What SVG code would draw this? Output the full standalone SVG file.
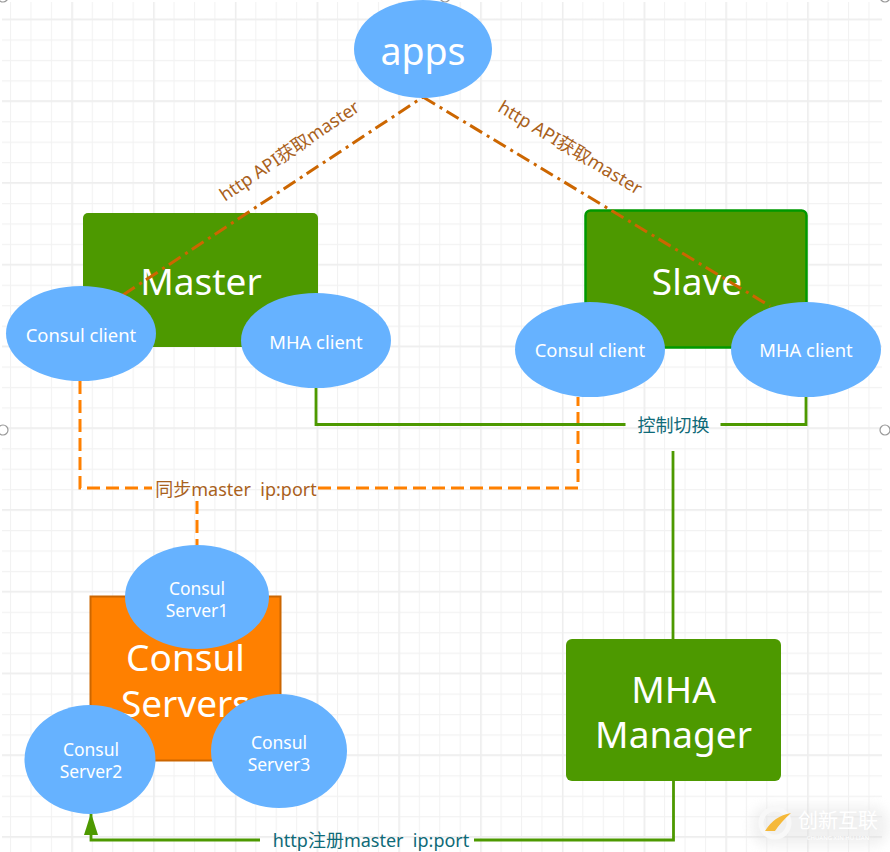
<svg xmlns="http://www.w3.org/2000/svg" width="890" height="852" viewBox="0 0 890 852">
<style>
text{font-family:"Noto Sans","Noto Sans CJK SC",sans-serif;text-anchor:middle;white-space:pre}
.e{fill:#66b2ff}
.g{fill:#4d9900}
.w{fill:#fff}
.s{font-size:18.400px}
.xs{font-size:17.500px}
.l{font-size:37px}
.lab{font-size:18px;fill:#a9611c}
.tl{font-size:18px;fill:#0f6a78}
.gl{fill:none;stroke:#4d9900;stroke-width:2.8}
.od{fill:none;stroke:#ff8000;stroke-width:3;stroke-dasharray:13 6}
.dd{fill:none;stroke:#cc6600;stroke-width:3;stroke-dasharray:14 5.500 3 5}
.h{fill:#fff;stroke:#999;stroke-width:1.2}
</style>
<defs>
<pattern id="minor" x="10" y="19" width="20.44" height="20.44" patternUnits="userSpaceOnUse"><path d="M0.5 0V20.44M0 0.5H20.44" fill="none" stroke="#f2f2f2" stroke-width="1.2"/></pattern>
<pattern id="major" x="71.5" y="18.5" width="81.75" height="81.75" patternUnits="userSpaceOnUse"><path d="M0.75 0V81.75M0 0.75H81.75" fill="none" stroke="#eeeeee" stroke-width="1.6"/></pattern>
<marker id="arrow" markerUnits="userSpaceOnUse" markerWidth="24" markerHeight="16" refX="23" refY="8" orient="auto" viewBox="0 0 24 16"><path d="M24 8L2 1V15Z" fill="#4d9900"/></marker>
<filter id="soft" x="-20%" y="-40%" width="140%" height="180%"><feGaussianBlur stdDeviation="6"/></filter>
</defs>
<rect width="890" height="852" fill="#fff"/>
<g id="grid">
<rect x="2" y="2" width="880" height="850" fill="url(#minor)"/>
<rect x="2" y="2" width="880" height="850" fill="url(#major)"/>
</g>
<g id="handles">
<circle class="h" cx="3" cy="430" r="5"/><circle class="h" cx="885" cy="430" r="5"/>
<circle class="h" cx="3" cy="-3" r="5"/><circle class="h" cx="445" cy="-3" r="5"/><circle class="h" cx="885" cy="-3" r="5"/>
</g>
<g id="master"><rect class="g" x="83" y="213" width="235" height="134" rx="5"/><text class="w l" x="201" y="295">Master</text></g>
<g id="slave"><rect class="g" x="585.500" y="210.500" width="221" height="137" rx="5" stroke="#009900" stroke-width="2.500"/><text class="w l" x="697" y="295">Slave</text></g>
<g id="consul-servers"><rect x="90.500" y="596.500" width="190" height="164" fill="#ff8000" stroke="#cc6600" stroke-width="2"/><text class="w l" x="185.500" y="671">Consul<tspan x="185.500" y="717">Servers</tspan></text></g>
<g id="mha-manager"><rect class="g" x="566" y="639" width="215" height="142" rx="6"/><text class="w l" x="673.500" y="703">MHA<tspan x="673.500" y="748">Manager</tspan></text></g>
<g id="connectors">
<path class="dd" d="M123 295L423 97"/>
<path class="dd" d="M423 97L770 306"/>
<path class="od" d="M80 381V488H152"/>
<path class="od" d="M318 488H578V397"/>
<path class="od" d="M197 501V546"/>
<path class="gl" d="M316 388V424.500H625.500"/>
<path class="gl" d="M720.500 424.500H806V397"/>
<path class="gl" d="M673 451V639"/>
<path class="gl" d="M673.500 781V840H474"/>
<path class="gl" d="M260 840H91V814" marker-end="url(#arrow)"/>
</g>
<g id="apps"><ellipse class="e" cx="423" cy="49" rx="69" ry="49"/><text class="w" style="font-size:37.500px" x="423" y="65">apps</text></g>
<g id="consul-client-1"><ellipse class="e" cx="81" cy="333.500" rx="75" ry="47.500"/><text class="w s" x="81" y="342">Consul client</text></g>
<g id="mha-client-1"><ellipse class="e" cx="316" cy="340.500" rx="75" ry="47.500"/><text class="w s" x="316" y="349">MHA client</text></g>
<g id="consul-client-2"><ellipse class="e" cx="590" cy="349.500" rx="75" ry="47.500"/><text class="w s" x="590" y="357">Consul client</text></g>
<g id="mha-client-2"><ellipse class="e" cx="806" cy="349.500" rx="75" ry="47.500"/><text class="w s" x="806" y="357">MHA client</text></g>
<g id="consul-server-1"><ellipse class="e" cx="197" cy="597" rx="72" ry="52"/><text class="w xs" x="197" y="595">Consul<tspan x="197" y="617">Server1</tspan></text></g>
<g id="consul-server-2"><ellipse class="e" cx="90" cy="759.500" rx="65.500" ry="54.500"/><text class="w xs" x="91" y="756">Consul<tspan x="91" y="778">Server2</tspan></text></g>
<g id="consul-server-3"><ellipse class="e" cx="279" cy="751" rx="68" ry="57"/><text class="w xs" x="279" y="749">Consul<tspan x="279" y="771">Server3</tspan></text></g>
<g id="labels">
<text class="tl" x="673.500" y="432">控制切换</text>
<text class="lab" x="236" y="496">同步master  ip:port</text>
<text class="tl" x="371" y="847">http注册master  ip:port</text>
<text class="lab" transform="translate(293 156) rotate(-34)">http API获取master</text>
<text class="lab" transform="translate(567 153) rotate(31)">http API获取master</text>
</g>
<g id="watermark">
<rect x="752" y="806" width="136" height="40" rx="16" fill="#dcdcdc" opacity=".4" filter="url(#soft)"/>
<circle cx="775" cy="823" r="14" fill="none" stroke="#f8f8f8" stroke-width="5"/>
<path d="M765 831Q774 816 791 813Q781 822 775 831Z" fill="#f5b93a"/>
<text x="838" y="828" style="font-size:20px" fill="#fff">创新互联</text>
<text x="838" y="840" style="font-size:6px" fill="#fff">CHUANG XIN HU LIAN</text>
</g>
</svg>
